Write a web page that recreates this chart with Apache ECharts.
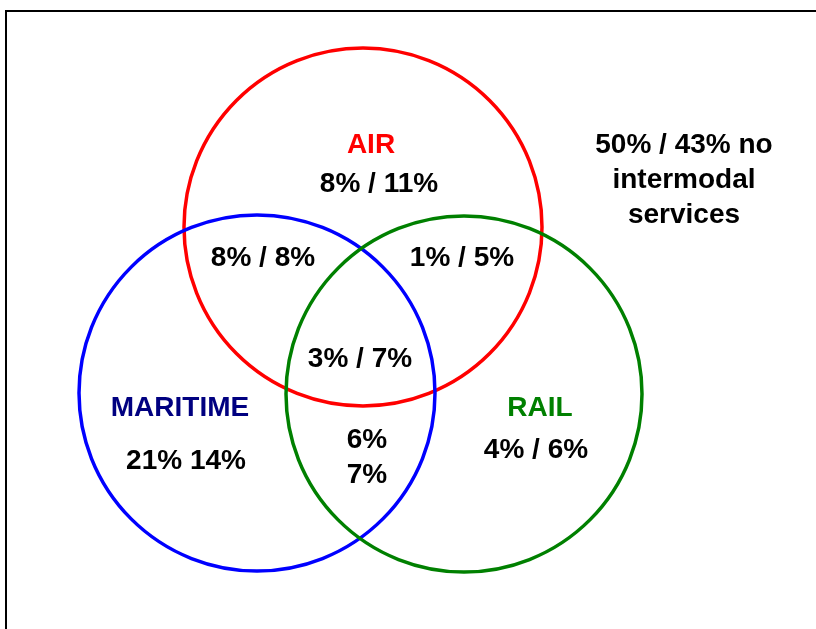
<!DOCTYPE html>
<html>
<head>
<meta charset="utf-8">
<title>Intermodal services</title>
<script src="https://cdn.jsdelivr.net/npm/echarts@6/dist/echarts.min.js"></script>
<style>
	html, body { margin: 0; padding: 0; background: #fff; }
	#chart { width: 816px; height: 629px; }
</style>
</head>
<body>
<div id="chart"></div>
<script type="text/javascript">
	// circles of the venn, in axis units (same as picture pixels)
	var setNames = ['AIR', 'MARITIME', 'RAIL'];
	var circleX = [363, 257, 464];
	var circleY = [227, 393, 394];
	var circleR = [179, 178, 178];

	// region labels: text, position, and which set it belongs to (for colour)
	var labelText = ['AIR', '8% / 11%', '8% / 8%', '1% / 5%', '3% / 7%',
		'MARITIME', '21% 14%', '6%\n7%', 'RAIL', '4% / 6%',
		'50% / 43% no\nintermodal\nservices'];
	var labelX = [371, 379, 263, 462, 360, 180, 186, 367, 540, 536, 684];
	var labelY = [145, 184, 258, 258, 359, 408, 461, 458, 408, 450, 180];
	var labelSet = ['AIR', '', '', '', '', 'MARITIME', '', '', 'RAIL', '', ''];

	var lineColor = { 'AIR': '#ff0000', 'MARITIME': '#0000ff', 'RAIL': '#008000' };
	var textColor = { 'AIR': '#ff0000', 'MARITIME': '#000080', 'RAIL': '#008000', '': '#000000' };

	var circleData = setNames.map(function (n, i) {
		return { name: n, value: [circleX[i], circleY[i], circleR[i]] };
	});
	var labelData = labelText.map(function (t, i) {
		return {
			name: t,
			value: [labelX[i], labelY[i]],
			label: { color: textColor[labelSet[i]] }
		};
	});

	var myChart = echarts.init(document.getElementById('chart'), null, { renderer: 'canvas' });
	var option = {
		backgroundColor: '#ffffff',
		animation: false,
		grid: { left: 0, right: 0, top: 0, bottom: 0 },
		xAxis: { type: 'value', min: 0, max: 816, show: false },
		yAxis: { type: 'value', min: 0, max: 629, inverse: true, show: false },
		graphic: [{
			type: 'rect',
			shape: { x: 6, y: 11, width: 840, height: 660 },
			style: { fill: 'none', stroke: '#000', lineWidth: 2 },
			silent: true
		}],
		series: [{
			type: 'custom',
			data: circleData,
			renderItem: function (params, api) {
				var c = api.coord([api.value(0), api.value(1)]);
				var r = api.size([api.value(2), 0])[0];
				return {
					type: 'circle',
					shape: { cx: c[0], cy: c[1], r: r },
					style: { fill: 'none', stroke: lineColor[setNames[params.dataIndex]], lineWidth: 3.5 }
				};
			}
		}, {
			type: 'scatter',
			symbolSize: 0,
			data: labelData,
			z: 5,
			itemStyle: { opacity: 1 },
			label: {
				show: true,
				opacity: 1,
				position: 'inside',
				formatter: function (p) { return p.name; },
				fontFamily: '"Liberation Sans", Arial, sans-serif',
				fontWeight: 'bold',
				fontSize: 28,
				lineHeight: 35,
				align: 'center',
				verticalAlign: 'middle'
			}
		}]
	};
	myChart.setOption(option);
</script>
</body>
</html>
